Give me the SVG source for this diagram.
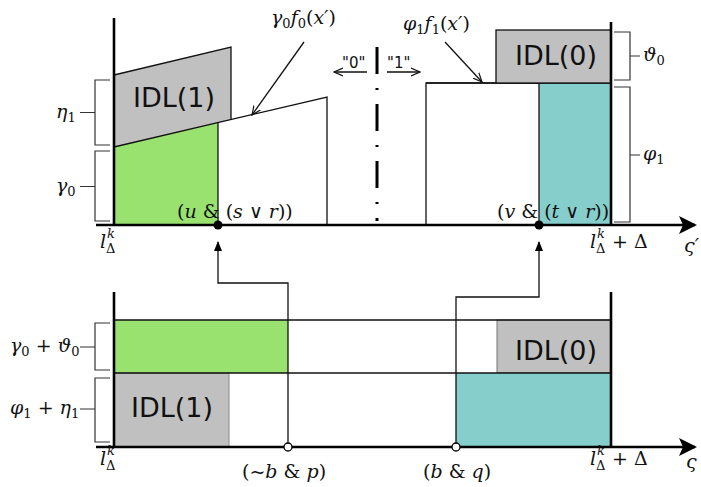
<svg xmlns="http://www.w3.org/2000/svg" width="701" height="487" viewBox="0 0 701 487">
<defs>
<style>
.m{font-family:"DejaVu Serif","Liberation Serif",serif;font-style:italic;font-size:19px;fill:#111}
.u{font-style:normal}
.s{font-size:13px}
.idl{font-family:"DejaVu Sans","Liberation Sans",sans-serif;font-size:27px;fill:#111;text-anchor:middle}
.ln{stroke:#111;stroke-width:1.3;fill:none}
.ax{stroke:#000;stroke-width:2.6;fill:none}
.br{stroke:#333;stroke-width:1.2;fill:none}
.green{fill:#99E26F}
.teal{fill:#85CECC}
.gray{fill:#C0C0C0}
</style>
<marker id="axh" viewBox="0 0 18 18" refX="16" refY="9" markerWidth="18" markerHeight="18" markerUnits="userSpaceOnUse" orient="auto">
<path d="M0,0 L18,9 L0,18 L4,9 Z" fill="#000"/>
</marker>
<marker id="up" viewBox="0 0 10 10" refX="9" refY="5" markerWidth="10" markerHeight="10" markerUnits="userSpaceOnUse" orient="auto">
<path d="M0,1 L10,5 L0,9 Z" fill="#000"/>
</marker>
<marker id="open" viewBox="0 0 10 10" refX="9" refY="5" markerWidth="10" markerHeight="10" markerUnits="userSpaceOnUse" orient="auto">
<path d="M0,1 L9,5 L0,9" fill="none" stroke="#111" stroke-width="1.2"/>
</marker>
</defs>

<!-- TOP PANEL -->
<g id="top-idl1">
<polygon class="gray" points="114,75 231,47 231,119.6 114,147"/>
<polyline class="ln" points="114,75 231,47 231,119.6"/>
<text class="idl" x="174" y="107">IDL(1)</text>
</g>
<g id="top-green">
<polygon class="green" points="114,147 218,122.7 218,225 114,225"/>
</g>
<g id="top-f0">
<polyline class="ln" points="114,147 327,97 327,225"/>
<line class="ln" x1="218" y1="122.7" x2="218" y2="225"/>
</g>
<g id="top-f1">
<rect x="426" y="83" width="185" height="142" fill="#fff" stroke="#111" stroke-width="1.3"/>
<rect class="teal" x="539" y="83" width="72" height="142"/>
<line class="ln" x1="539" y1="83" x2="539" y2="225"/>
<line class="ln" x1="426" y1="83" x2="611" y2="83"/>
</g>
<g id="top-idl0">
<rect class="gray" x="496" y="30" width="115" height="53" stroke="#111" stroke-width="1.3"/>
<text class="idl" x="556" y="65">IDL(0)</text>
</g>
<g id="top-axes">
<line class="ax" x1="114" y1="18" x2="114" y2="226"/>
<line class="ax" x1="611" y1="22" x2="611" y2="226"/>
<line class="ax" x1="96" y1="225" x2="695" y2="225" marker-end="url(#axh)"/>
</g>
<g id="divider">
<line x1="377" y1="47" x2="377" y2="221" stroke="#000" stroke-width="3" stroke-dasharray="27 14 2 14"/>
<line class="ln" x1="367" y1="72" x2="334" y2="72" marker-end="url(#open)"/>
<line class="ln" x1="387" y1="72" x2="420" y2="72" marker-end="url(#open)"/>
<text x="342" y="68" font-family="DejaVu Sans,Liberation Sans,sans-serif" font-size="15" fill="#111">"0"</text>
<text x="387" y="68" font-family="DejaVu Sans,Liberation Sans,sans-serif" font-size="15" fill="#111">"1"</text>
</g>
<g id="top-brackets">
<path class="br" d="M110,80 H95 V145 H110 M95,112.5 H80"/>
<path class="br" d="M110,151 H95 V221 H110 M95,186.5 H80"/>
<path class="br" d="M614,32 H630 V80 H614 M630,56 H640"/>
<path class="br" d="M614,87 H630 V222 H614 M630,155 H640"/>
<text class="m" x="56" y="118">η<tspan class="s u" dy="4">1</tspan></text>
<text class="m" x="56" y="192">γ<tspan class="s u" dy="4">0</tspan></text>
<text class="m" x="643" y="61">ϑ<tspan class="s u" dy="4">0</tspan></text>
<text class="m" x="643" y="160">φ<tspan class="s u" dy="4">1</tspan></text>
</g>
<g id="top-labels">
<text class="m" x="271" y="24">γ<tspan class="s u" dy="4">0</tspan><tspan dy="-4">f</tspan><tspan class="s u" dy="4">0</tspan><tspan class="u" dy="-4">(</tspan>x′<tspan class="u">)</tspan></text>
<text class="m" x="403" y="30">φ<tspan class="s u" dy="4">1</tspan><tspan dy="-4">f</tspan><tspan class="s u" dy="4">1</tspan><tspan class="u" dy="-4">(</tspan>x′<tspan class="u">)</tspan></text>
<line class="ln" x1="304" y1="42" x2="252" y2="115" marker-end="url(#open)"/>
<line class="ln" x1="445" y1="42" x2="482" y2="82" marker-end="url(#open)"/>
<text class="m" x="177" y="218"><tspan class="u">(</tspan>u <tspan class="u">&amp; (</tspan>s <tspan class="u">∨</tspan> r<tspan class="u">))</tspan></text>
<text class="m" x="497" y="218"><tspan class="u">(</tspan>v <tspan class="u">&amp; (</tspan>t <tspan class="u">∨</tspan> r<tspan class="u">))</tspan></text>
<text class="m" x="100" y="248">l</text>
<text class="m s" x="107" y="238">k</text>
<text class="m s u" x="106" y="253">Δ</text>
<text class="m" x="590" y="248">l</text>
<text class="m s" x="597" y="238">k</text>
<text class="m s u" x="596" y="253">Δ</text>
<text class="m u" x="612" y="248">+ Δ</text>
<text class="m" x="684" y="252">ς′</text>
</g>
<g id="dots">
<circle cx="218" cy="225" r="4.5" fill="#000"/>
<circle cx="539" cy="225" r="4.5" fill="#000"/>
</g>

<!-- BOTTOM PANEL -->
<g id="bot-green">
<rect class="green" x="114" y="320" width="174" height="53"/>
</g>
<g id="bot-idl1">
<rect class="gray" x="114" y="373" width="115" height="74" stroke="#888" stroke-width="1"/>
<text class="idl" x="172" y="417">IDL(1)</text>
</g>
<g id="bot-idl0">
<rect class="gray" x="497" y="320" width="114" height="53" stroke="#777" stroke-width="1"/>
<text class="idl" x="556" y="360">IDL(0)</text>
</g>
<g id="bot-teal">
<rect class="teal" x="456" y="373" width="155" height="74"/>
</g>
<g id="bot-lines">
<line class="ln" x1="114" y1="320" x2="611" y2="320"/>
<line class="ln" x1="114" y1="373" x2="611" y2="373"/>
</g>
<g id="bot-axes">
<line class="ax" x1="114" y1="292" x2="114" y2="448"/>
<line class="ax" x1="611" y1="292" x2="611" y2="448"/>
<line class="ax" x1="96" y1="447" x2="695" y2="447" marker-end="url(#axh)"/>
</g>
<g id="bot-brackets">
<path class="br" d="M110,323 H95 V370 H110 M95,347 H80"/>
<path class="br" d="M110,378 H95 V442 H110 M95,409 H80"/>
<text class="m" x="10" y="352">γ<tspan class="s u" dy="4">0</tspan><tspan class="u" dy="-4"> + </tspan>ϑ<tspan class="s u" dy="4">0</tspan></text>
<text class="m" x="10" y="414">φ<tspan class="s u" dy="4">1</tspan><tspan class="u" dy="-4"> + </tspan>η<tspan class="s u" dy="4">1</tspan></text>
</g>
<g id="bot-labels">
<text class="m" x="100" y="465">l</text>
<text class="m s" x="107" y="455">k</text>
<text class="m s u" x="106" y="470">Δ</text>
<text class="m" x="590" y="465">l</text>
<text class="m s" x="597" y="455">k</text>
<text class="m s u" x="596" y="470">Δ</text>
<text class="m u" x="612" y="465">+ Δ</text>
<text class="m" x="686" y="468">ς</text>
<text class="m" x="242" y="478"><tspan class="u">(~</tspan>b <tspan class="u">&amp;</tspan> p<tspan class="u">)</tspan></text>
<text class="m" x="423" y="478"><tspan class="u">(</tspan>b <tspan class="u">&amp;</tspan> q<tspan class="u">)</tspan></text>
</g>

<!-- CONNECTORS -->
<g id="connectors">
<polyline class="ln" points="288,447 288,283 218,283 218,242" marker-end="url(#up)"/>
<polyline class="ln" points="456,447 456,297 539,297 539,242" marker-end="url(#up)"/>
<circle cx="288" cy="447" r="4" fill="#fff" stroke="#000" stroke-width="1.3"/>
<circle cx="456" cy="447" r="4" fill="#fff" stroke="#000" stroke-width="1.3"/>
</g>
</svg>
